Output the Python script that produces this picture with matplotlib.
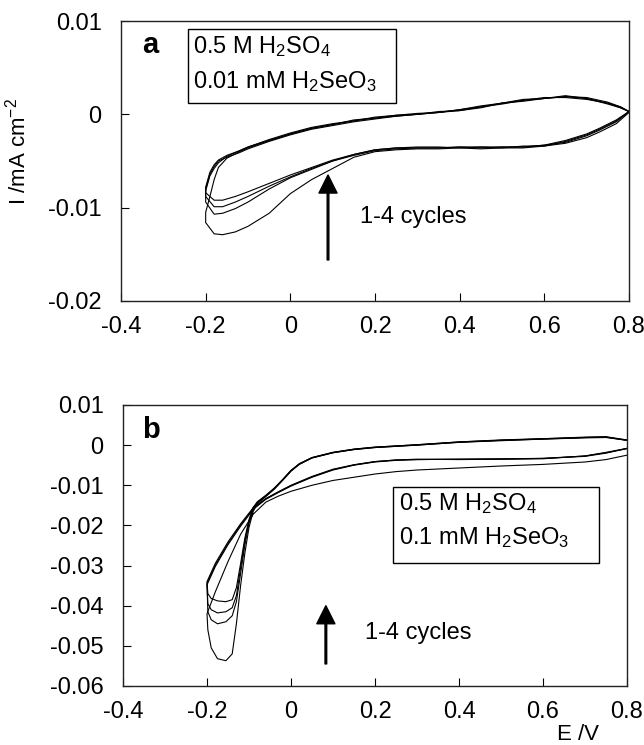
import matplotlib
matplotlib.use("Agg")
import matplotlib.pyplot as plt
from matplotlib.patches import Rectangle

plt.rcParams["font.family"] = ["Liberation Sans", "DejaVu Sans"]
plt.rcParams["mathtext.fontset"] = "custom"
plt.rcParams["mathtext.rm"] = "Liberation Sans"
plt.rcParams["mathtext.it"] = "Liberation Sans:italic"
plt.rcParams["axes.unicode_minus"] = False

# ---- panel a (0.01 mM H2SeO3), cycles 1-4 ----
Ea_cath = [0.80, 0.77, 0.73, 0.70, 0.65, 0.60, 0.55, 0.50, 0.45, 0.40, 0.35, 0.30,
           0.25, 0.20, 0.15, 0.10, 0.05, 0.00, -0.05, -0.10, -0.13, -0.16, -0.18, -0.20]
a_cath_1 = [0.0002, -0.0010, -0.0019, -0.0025, -0.0031, -0.0034, -0.0036, -0.0036, -0.0037, -0.0036, -0.0037, -0.0037,
            -0.0038, -0.0040, -0.0046, -0.0058, -0.0070, -0.0085, -0.0106, -0.0120, -0.0126, -0.0129, -0.0128, -0.0116]
a_cath_2 = [0.0003, -0.0008, -0.0017, -0.0023, -0.0030, -0.0033, -0.0035, -0.0035, -0.0036, -0.0035, -0.0036, -0.0036,
            -0.0037, -0.0039, -0.0044, -0.0050, -0.0059, -0.0068, -0.0080, -0.0094, -0.0101, -0.0106, -0.0107, -0.0094]
a_cath_3 = [0.0003, -0.0007, -0.0016, -0.0022, -0.0029, -0.0034, -0.0034, -0.0036, -0.0035, -0.0036, -0.0035, -0.0035,
            -0.0036, -0.0038, -0.0043, -0.0050, -0.0058, -0.0067, -0.0077, -0.0088, -0.0094, -0.0099, -0.0099, -0.0088]
a_cath_4 = [0.0003, -0.0006, -0.0015, -0.0021, -0.0028, -0.0033, -0.0035, -0.0035, -0.0035, -0.0035, -0.0036, -0.0036,
            -0.0036, -0.0038, -0.0043, -0.0049, -0.0057, -0.0065, -0.0074, -0.0083, -0.0088, -0.0092, -0.0092, -0.0084]

Ea_anod = [-0.20, -0.19, -0.18, -0.17, -0.15, -0.12, -0.10, -0.05, 0.00, 0.05, 0.10, 0.15, 0.20,
           0.25, 0.30, 0.35, 0.40, 0.45, 0.50, 0.55, 0.60, 0.65, 0.70, 0.75, 0.78, 0.80]
a_anod_1 = [-0.0105, -0.0088, -0.0070, -0.0057, -0.0047, -0.0040, -0.0036, -0.0028, -0.0021, -0.0015, -0.0011, -0.0007, -0.0004,
            -0.0002, 0.0000, 0.0002, 0.0004, 0.0008, 0.0012, 0.0015, 0.0017, 0.0019, 0.0017, 0.0011, 0.0007, 0.0003]
a_anod_2 = [-0.0082, -0.0066, -0.0058, -0.0052, -0.0045, -0.0039, -0.0035, -0.0027, -0.0020, -0.0014, -0.0010, -0.0007, -0.0003,
            -0.0001, 0.0001, 0.0002, 0.0005, 0.0008, 0.0011, 0.0015, 0.0018, 0.0018, 0.0016, 0.0012, 0.0008, 0.0003]
a_anod_3 = [-0.0080, -0.0064, -0.0056, -0.0050, -0.0046, -0.0041, -0.0037, -0.0029, -0.0022, -0.0016, -0.0012, -0.0008, -0.0005,
            -0.0002, 0.0000, 0.0003, 0.0004, 0.0007, 0.0012, 0.0014, 0.0017, 0.0019, 0.0018, 0.0013, 0.0008, 0.0003]
a_anod_4 = [-0.0078, -0.0062, -0.0054, -0.0049, -0.0044, -0.0039, -0.0035, -0.0028, -0.0021, -0.0015, -0.0011, -0.0006, -0.0004,
            -0.0001, 0.0000, 0.0002, 0.0005, 0.0009, 0.0012, 0.0016, 0.0017, 0.0020, 0.0017, 0.0012, 0.0007, 0.0003]

# ---- panel b (0.1 mM H2SeO3), cycles 1-4 ----
Eb_cath = [0.80, 0.75, 0.70, 0.60, 0.50, 0.40, 0.30, 0.25, 0.20, 0.15,
           0.10, 0.05, 0.00, -0.03, -0.06, -0.09, -0.12, -0.15, -0.18, -0.20]
b_cath_1 = [-0.0025, -0.0036, -0.0042, -0.0048, -0.0052, -0.0057, -0.0062, -0.0066, -0.0072, -0.0080,
            -0.0088, -0.0100, -0.0115, -0.0127, -0.0142, -0.0172, -0.0222, -0.0290, -0.0365, -0.0420]
b_cath_2 = [-0.0008, -0.0020, -0.0028, -0.0033, -0.0035, -0.0035, -0.0036, -0.0038, -0.0042, -0.0050,
            -0.0062, -0.0080, -0.0102, -0.0118, -0.0135, -0.0160, -0.0202, -0.0248, -0.0302, -0.0348]
b_cath_3 = [-0.0009, -0.0019, -0.0027, -0.0034, -0.0035, -0.0036, -0.0035, -0.0037, -0.0041, -0.0049,
            -0.0061, -0.0079, -0.0101, -0.0117, -0.0134, -0.0158, -0.0199, -0.0245, -0.0298, -0.0344]
b_cath_4 = [-0.0008, -0.0018, -0.0027, -0.0033, -0.0034, -0.0035, -0.0036, -0.0037, -0.0041, -0.0049,
            -0.0060, -0.0078, -0.0100, -0.0116, -0.0133, -0.0156, -0.0196, -0.0241, -0.0294, -0.0340]

Eb_anod = [-0.198, -0.19, -0.175, -0.155, -0.14, -0.13, -0.12, -0.11, -0.10, -0.09, -0.08,
           -0.06, -0.04, -0.02, 0.00, 0.02, 0.05, 0.10, 0.15, 0.20, 0.30, 0.40, 0.50, 0.60, 0.70, 0.75, 0.80]
b_anod_1 = [-0.0460, -0.0505, -0.0532, -0.0537, -0.0520, -0.0445, -0.0350, -0.0270, -0.0205, -0.0165, -0.0146,
            -0.0128, -0.0110, -0.0088, -0.0065, -0.0048, -0.0032, -0.0019, -0.0011, -0.0006, 0.0000, 0.0007, 0.0012, 0.0015, 0.0019, 0.0020, 0.0012]
b_anod_2 = [-0.0415, -0.0435, -0.0445, -0.0440, -0.0425, -0.0390, -0.0320, -0.0250, -0.0195, -0.0160, -0.0143,
            -0.0127, -0.0109, -0.0087, -0.0064, -0.0047, -0.0031, -0.0018, -0.0010, -0.0005, 0.0001, 0.0008, 0.0013, 0.0016, 0.0020, 0.0021, 0.0013]
b_anod_3 = [-0.0395, -0.0410, -0.0418, -0.0415, -0.0405, -0.0375, -0.0305, -0.0240, -0.0190, -0.0158, -0.0142,
            -0.0126, -0.0108, -0.0086, -0.0063, -0.0047, -0.0032, -0.0019, -0.0011, -0.0006, 0.0000, 0.0007, 0.0011, 0.0015, 0.0018, 0.0019, 0.0012]
b_anod_4 = [-0.0370, -0.0382, -0.0388, -0.0390, -0.0385, -0.0355, -0.0295, -0.0232, -0.0185, -0.0155, -0.0141,
            -0.0125, -0.0107, -0.0086, -0.0063, -0.0046, -0.0031, -0.0018, -0.0010, -0.0005, 0.0001, 0.0008, 0.0012, 0.0016, 0.0019, 0.0020, 0.0012]

xticks = [-0.4, -0.2, 0.0, 0.2, 0.4, 0.6, 0.8]
xticklabels = ["-0.4", "-0.2", "0", "0.2", "0.4", "0.6", "0.8"]
a_yticks = [-0.02, -0.01, 0.0, 0.01]
a_yticklabels = ["-0.02", "-0.01", "0", "0.01"]
b_yticks = [-0.06, -0.05, -0.04, -0.03, -0.02, -0.01, 0.0, 0.01]
b_yticklabels = ["-0.06", "-0.05", "-0.04", "-0.03", "-0.02", "-0.01", "0", "0.01"]

fs = 17

fig = plt.figure(figsize=(6.44, 7.45), dpi=100)
ax_a = fig.add_axes([0.1879, 0.5960, 0.7888, 0.3758])
ax_b = fig.add_axes([0.1910, 0.0792, 0.7826, 0.3772])

cycles_a = [(a_cath_1, a_anod_1), (a_cath_2, a_anod_2), (a_cath_3, a_anod_3), (a_cath_4, a_anod_4)]
cycles_b = [(b_cath_1, b_anod_1), (b_cath_2, b_anod_2), (b_cath_3, b_anod_3), (b_cath_4, b_anod_4)]

for cath, anod in cycles_a:
    ax_a.plot(Ea_cath + Ea_anod, cath + anod, color="black", lw=0.8)
for cath, anod in cycles_b:
    ax_b.plot(Eb_cath + Eb_anod, cath + anod, color="black", lw=0.8)

for ax, yt, ytl, ylim in [(ax_a, a_yticks, a_yticklabels, (-0.02, 0.01)),
                          (ax_b, b_yticks, b_yticklabels, (-0.06, 0.01))]:
    ax.set_xlim(-0.4, 0.8)
    ax.set_ylim(*ylim)
    ax.set_xticks(xticks)
    ax.set_xticklabels(xticklabels)
    ax.set_yticks(yt)
    ax.set_yticklabels(ytl)
    ax.tick_params(direction="in", length=6, width=0.8, labelsize=fs)
    ax.tick_params(axis="x", pad=11)
    ax.tick_params(axis="y", pad=14)
    for s in ax.spines.values():
        s.set_linewidth(1.0)
        s.set_color("#222222")

# panel labels
ax_a.text(0.057, 0.914, "a", transform=ax_a.transAxes, fontsize=21, fontweight="bold",
          ha="center", va="center")
ax_b.text(0.056, 0.911, "b", transform=ax_b.transAxes, fontsize=21, fontweight="bold",
          ha="center", va="center")

# composition boxes
ax_a.add_patch(Rectangle((0.132, 0.707), 0.409, 0.264, transform=ax_a.transAxes,
                         fill=False, ec="black", lw=1.0))
ax_a.text(0.142, 0.907, "0.5 M H$_2$SO$_4$", transform=ax_a.transAxes, fontsize=fs, va="center")
ax_a.text(0.142, 0.782, "0.01 mM H$_2$SeO$_3$", transform=ax_a.transAxes, fontsize=fs, va="center")

ax_b.add_patch(Rectangle((0.536, 0.438), 0.408, 0.270, transform=ax_b.transAxes,
                         fill=False, ec="black", lw=1.0))
ax_b.text(0.548, 0.651, "0.5 M H$_2$SO$_4$", transform=ax_b.transAxes, fontsize=fs, va="center")
ax_b.text(0.548, 0.530, "0.1 mM H$_2$SeO$_3$", transform=ax_b.transAxes, fontsize=fs, va="center")

# cycle arrows
arrow = dict(facecolor="black", edgecolor="black", width=1.2, headwidth=13, headlength=13, shrink=0)
ax_a.annotate("", xy=(0.089, -0.0065), xytext=(0.089, -0.0156), arrowprops=arrow)
ax_a.text(0.165, -0.011, "1-4 cycles", fontsize=fs, va="center")
ax_b.annotate("", xy=(0.083, -0.040), xytext=(0.083, -0.0545), arrowprops=arrow)
ax_b.text(0.176, -0.0468, "1-4 cycles", fontsize=fs, va="center")

fig.text(18 / 644, 1 - 152 / 745, "I /mA cm$^{-2}$", rotation=90, fontsize=16,
         ha="center", va="center")
fig.text(578 / 644, 1 - 734 / 745, "E /V", fontsize=16, ha="center", va="center")

fig.savefig("out.png", dpi=100)
